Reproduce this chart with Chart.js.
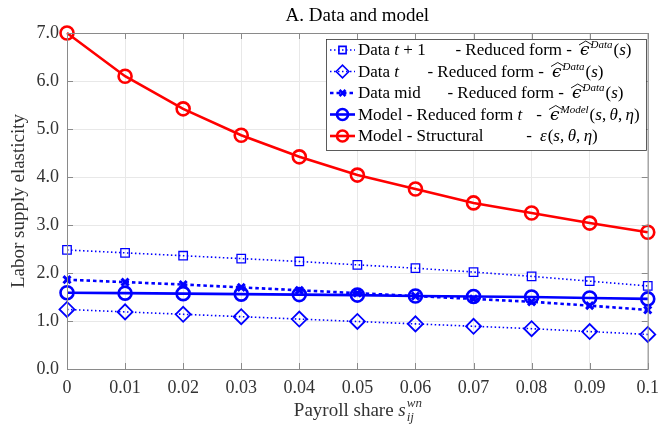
<!DOCTYPE html>
<html><head><meta charset="utf-8">
<script src="https://cdn.jsdelivr.net/npm/chart.js@4/dist/chart.umd.min.js"></script>
<style>html,body{margin:0;padding:0;background:#fff}#wrap{width:667px;height:426px}</style>
</head><body><div id="wrap"><canvas id="c" width="667" height="426"></canvas></div>
<script>
const xs = [0,0.01,0.02,0.03,0.04,0.05,0.06,0.07,0.08,0.09,0.1];
const dataT1   = [2.48,2.42,2.36,2.30,2.24,2.17,2.10,2.02,1.93,1.83,1.73];
const dataT    = [1.24,1.19,1.14,1.09,1.04,0.99,0.94,0.89,0.84,0.78,0.72];
const dataMid  = [1.86,1.81,1.76,1.70,1.64,1.58,1.52,1.46,1.40,1.32,1.23];
const modelRF  = [1.59,1.58,1.57,1.56,1.55,1.54,1.52,1.51,1.50,1.48,1.46];
const modelStr = [7.00,6.10,5.42,4.87,4.42,4.04,3.75,3.46,3.25,3.04,2.85];
const yTicks = [0,1,2,3,4,5,6,7];
const xTicks = xs;

const BLUE='#0000ff', RED='#ff0000';
const FF = '"Liberation Serif", "DejaVu Serif", serif';
const GF = '"DejaVu Serif", serif';
const LS = 17;
const pts = a => a.map((v,i)=>({x:xs[i],y:v}));
const TS = '\u2009';

const legendItems = [
  {ds:0, left:[['Data ','n'],['t','i'],[' + 1','n']], mid:'- Reduced form -', ex:580, math:'eps', sup:'Data', args:[['(','n'],['s','i'],[')','n']]},
  {ds:1, left:[['Data ','n'],['t','i']], mid:'- Reduced form -', ex:552, math:'eps', sup:'Data', args:[['(','n'],['s','i'],[')','n']]},
  {ds:2, left:[['Data mid','n']], mid:'- Reduced form -', ex:572, math:'eps', sup:'Data', args:[['(','n'],['s','i'],[')','n']]},
  {ds:3, left:[['Model - Reduced form ','n'],['t','i']], mid:'-', ex:550, math:'eps', sup:'Model', args:[['(','n'],['s','i'],[','+TS,'n'],['θ','i'],[','+TS,'n'],['η','i'],[')','n']]},
  {ds:4, left:[['Model - Structural','n']], mid:'-', ex:540, math:'vareps', args:[['(','n'],['s','i'],[','+TS,'n'],['θ','i'],[','+TS,'n'],['η','i'],[')','n']]}
];

function drawSegs(ctx, segs, x, y, size){
  for(const [t,s] of segs){
    ctx.font = (s==='i'?'italic ':'') + size + 'px ' + FF;
    ctx.fillText(t, x, y);
    x += ctx.measureText(t).width;
  }
  return x;
}

const decor = {
  id:'decor',
  afterDraw(chart){
    const ctx = chart.ctx, a = chart.chartArea, xs_ = chart.scales.x, ys_ = chart.scales.y;
    ctx.save();
    ctx.strokeStyle = '#8a8a8a'; ctx.lineWidth = 1;
    ctx.strokeRect(a.left+0.5, a.top+0.5, a.right-a.left, a.bottom-a.top);
    ctx.beginPath();
    for(const v of yTicks){ const p=Math.round(ys_.getPixelForValue(v))+0.5;
      ctx.moveTo(a.left,p); ctx.lineTo(a.left+6,p); ctx.moveTo(a.right,p); ctx.lineTo(a.right-6,p);}
    for(const v of xTicks){ const p=Math.round(xs_.getPixelForValue(v))+0.5;
      ctx.moveTo(p,a.bottom); ctx.lineTo(p,a.bottom-6); ctx.moveTo(p,a.top); ctx.lineTo(p,a.top+6);}
    ctx.stroke();
    // title
    ctx.fillStyle = '#000'; ctx.textBaseline='alphabetic'; ctx.textAlign='center';
    ctx.font = '19px ' + FF;
    ctx.fillText('A. Data and model', (a.left+a.right)/2, 21);
    // y title
    ctx.save(); ctx.translate(24, (a.top+a.bottom)/2); ctx.rotate(-Math.PI/2);
    ctx.font = '19px ' + FF; ctx.fillStyle='#333';
    ctx.fillText('Labor supply elasticity', 0, 0); ctx.restore();
    // x title
    ctx.textAlign='left'; ctx.fillStyle='#333';
    ctx.font = '19px ' + FF;
    const t1='Payroll share ', w1=ctx.measureText(t1).width;
    ctx.font = 'italic 19px ' + FF; const ws=ctx.measureText('s').width;
    ctx.font = 'italic 13px ' + FF; const wsup=ctx.measureText('wn').width;
    const total = w1+ws+wsup;
    let x0 = (a.left+a.right)/2 - total/2, yb = 416;
    ctx.font = '19px ' + FF; ctx.fillText(t1, x0, yb);
    ctx.font = 'italic 19px ' + FF; ctx.fillText('s', x0+w1, yb);
    ctx.font = 'italic 13px ' + FF; ctx.fillText('wn', x0+w1+ws+1, yb-9); ctx.fillText('ij', x0+w1+ws+1, yb+5);
    // legend
    const L=326, T=39, R=646, B=150;
    ctx.fillStyle='#fff'; ctx.fillRect(L,T,R-L,B-T);
    ctx.strokeStyle='#333'; ctx.lineWidth=0.8; ctx.strokeRect(L+0.5,T+0.5,R-L,B-T);
    const rowY=[50,71.5,93,114.5,136];
    legendItems.forEach((it,i)=>{
      const ds = chart.data.datasets[it.ds]; const y=rowY[i];
      ctx.save();
      ctx.strokeStyle = ds.borderColor; ctx.fillStyle='rgba(0,0,0,0)'; ctx.lineWidth = ds.borderWidth;
      ctx.setLineDash(ds.borderDash||[]);
      ctx.beginPath(); ctx.moveTo(330,y); ctx.lineTo(355,y); ctx.stroke();
      ctx.setLineDash([]);
      Chart.helpers.drawPoint(ctx, {pointStyle:ds.pointStyle, radius:ds.pointRadius*0.85, borderWidth:ds.pointBorderWidth}, 342.5, y);
      ctx.restore();
      const b = y + 5;
      ctx.fillStyle='#000'; ctx.textAlign='left'; ctx.textBaseline='alphabetic';
      drawSegs(ctx, it.left, 358, b, LS);
      if(it.mid){
        ctx.font = LS + 'px ' + FF; ctx.textAlign='right';
        ctx.fillText(it.mid, it.ex - 8, b); ctx.textAlign='left';
      }
      let mx = it.ex;
      if(it.math==='eps'){
        ctx.font = 'italic ' + LS + 'px ' + GF; ctx.fillText('ϵ', mx, b);
        const we = ctx.measureText('ϵ').width;
        ctx.strokeStyle='#000'; ctx.lineWidth=0.9; ctx.beginPath();
        ctx.moveTo(mx-1,b-10); ctx.lineTo(mx+we/2+1,b-14); ctx.lineTo(mx+we+3,b-10); ctx.stroke();
        ctx.font = 'italic 11px ' + FF; ctx.fillText(it.sup, mx+we+1, b-7);
        mx += we + 1 + ctx.measureText(it.sup).width + 1;
      } else {
        ctx.font = 'italic ' + LS + 'px ' + FF; ctx.fillText('ε', mx, b);
        mx += ctx.measureText('ε').width + 1;
      }
      drawSegs(ctx, it.args, mx, b, LS);
    });
    ctx.restore();
  }
};

const common = {showLine:true, fill:false, tension:0, clip:false};
new Chart(document.getElementById('c'), {
  type:'scatter',
  data:{datasets:[
    {...common, label:'Data t+1', data:pts(dataT1), borderColor:BLUE, backgroundColor:'rgba(0,0,0,0)', borderWidth:1.6, borderDash:[1.5,2.5], pointStyle:'rect', pointRadius:6, pointBorderWidth:1.3, pointBorderColor:BLUE, pointBackgroundColor:'rgba(0,0,0,0)', order:4},
    {...common, label:'Data t', data:pts(dataT), borderColor:BLUE, backgroundColor:'rgba(0,0,0,0)', borderWidth:1.6, borderDash:[1.5,2.5], pointStyle:'rectRot', pointRadius:7.5, pointBorderWidth:1.8, pointBorderColor:BLUE, pointBackgroundColor:'rgba(0,0,0,0)', order:3},
    {...common, label:'Data mid', data:pts(dataMid), borderColor:BLUE, backgroundColor:'rgba(0,0,0,0)', borderWidth:2.6, borderDash:[3.5,3], pointStyle:'crossRot', pointRadius:5, pointBorderWidth:3, pointBorderColor:BLUE, order:2},
    {...common, label:'Model RF', data:pts(modelRF), borderColor:BLUE, backgroundColor:'rgba(0,0,0,0)', borderWidth:2.6, pointStyle:'circle', pointRadius:6.5, pointBorderWidth:2.6, pointBorderColor:BLUE, pointBackgroundColor:'rgba(0,0,0,0)', order:1},
    {...common, label:'Model Str', data:pts(modelStr), borderColor:RED, backgroundColor:'rgba(0,0,0,0)', borderWidth:2.6, pointStyle:'circle', pointRadius:6.5, pointBorderWidth:2.6, pointBorderColor:RED, pointBackgroundColor:'rgba(0,0,0,0)', order:0}
  ]},
  options:{
    responsive:false, animation:false, devicePixelRatio:1,
    layout:{padding:{top:33,right:12,left:0,bottom:0}},
    plugins:{legend:{display:false}, tooltip:{enabled:false}},
    scales:{
      x:{type:'linear', min:0, max:0.1, afterBuildTicks(s){ s.ticks = xTicks.map(v=>({value:v})); },
         afterFit(s){ s.height = 57; },
         grid:{color:'#e8e8e8', drawTicks:false}, border:{display:false},
         ticks:{font:{family:FF,size:18}, color:'#333', padding:8, maxRotation:0, autoSkip:false,
           callback:v=> v===0?'0': (Math.abs(v-0.1)<1e-9?'0.1': v.toFixed(2))}},
      y:{type:'linear', min:0, max:7, afterBuildTicks(s){ s.ticks = yTicks.map(v=>({value:v})); },
         afterFit(s){ s.width = 67; },
         grid:{color:'#e8e8e8', drawTicks:false}, border:{display:false},
         ticks:{font:{family:FF,size:18}, color:'#333', padding:8, callback:v=>Number(v).toFixed(1)}}
    }
  },
  plugins:[decor]
});
</script></body></html>
